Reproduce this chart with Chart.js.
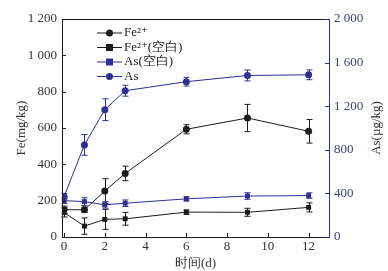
<!DOCTYPE html>
<html>
<head>
<meta charset="utf-8">
<script src="https://cdn.jsdelivr.net/npm/chart.js@4"></script>
<style>
  html, body { margin: 0; padding: 0; background: #fff; }
  #wrap { width: 388px; height: 271px; }
</style>
</head>
<body>
<div id="wrap"><canvas id="chart" width="388" height="271"></canvas></div>
<script>
// days sampled
let days = [0, 1, 2, 3, 6, 9, 12];

// Fe (mg/kg), left axis
let fe = [150, 150, 253, 350, 593, 655, 582];
let feErr = [20, 15, 68, 40, 25, 75, 65];
let feBlank = [135, 60, 97, 100, 137, 136, 163];
let feBlankErr = [25, 45, 55, 35, 12, 22, 25];

// As (ug/kg), right axis
let asBlank = [333, 325, 295, 310, 350, 376, 380];
let asBlankErr = [25, 35, 30, 30, 20, 30, 25];
let as = [370, 845, 1168, 1342, 1425, 1482, 1488];
let asErr = [30, 95, 100, 50, 40, 50, 45];

let xTicks = [0, 2, 4, 6, 8, 10, 12];
let feTicks = [0, 200, 400, 600, 800, 1000, 1200];
let asTicks = [0, 400, 800, 1200, 1600, 2000];

let black = '#1c1c1c';
let navy = '#2e3192';
let serif = '"Liberation Serif", "DejaVu Serif", serif';

let pts = (ys) => days.map((d, i) => ({ x: d, y: ys[i] }));
let fmt = (v) => String(v).replace(/\B(?=(\d{3})+(?!\d))/g, ' ');

let datasets = [
  { label: 'Fe²⁺', data: pts(fe), err: feErr, yAxisID: 'y', borderColor: black, backgroundColor: black, pointStyle: 'circle', pointRadius: 3.5 },
  { label: 'Fe²⁺(空白)', data: pts(feBlank), err: feBlankErr, yAxisID: 'y', borderColor: black, backgroundColor: black, pointStyle: 'rect', pointRadius: 3.5 },
  { label: 'As(空白)', data: pts(asBlank), err: asBlankErr, yAxisID: 'y1', borderColor: navy, backgroundColor: navy, pointStyle: 'rect', pointRadius: 3.5 },
  { label: 'As', data: pts(as), err: asErr, yAxisID: 'y1', borderColor: navy, backgroundColor: navy, pointStyle: 'circle', pointRadius: 3.5 }
];
datasets.forEach(d => { d.borderWidth = 1; d.pointBorderWidth = 0; d.tension = 0; });

// error bars with small caps
let errorBars = {
  id: 'errorBars',
  afterDatasetsDraw(chart) {
    let ctx = chart.ctx;
    chart.data.datasets.forEach((ds, di) => {
      let xs = chart.scales.x, ys = chart.scales[ds.yAxisID];
      ctx.save();
      ctx.strokeStyle = ds.borderColor;
      ctx.lineWidth = 1;
      ds.data.forEach((p, i) => {
        let px = Math.round(xs.getPixelForValue(p.x)) + 0.5;
        let top = ys.getPixelForValue(p.y + ds.err[i]);
        let bot = ys.getPixelForValue(Math.max(0, p.y - ds.err[i]));
        ctx.beginPath();
        ctx.moveTo(px, top); ctx.lineTo(px, bot);
        ctx.moveTo(px - 3, top); ctx.lineTo(px + 3, top);
        ctx.moveTo(px - 3, bot); ctx.lineTo(px + 3, bot);
        ctx.stroke();
      });
      ctx.restore();
    });
  }
};

// frame, inner ticks, right title, legend inside plot
let frame = {
  id: 'frame',
  afterDraw(chart) {
    let ctx = chart.ctx, a = chart.chartArea;
    let sx = chart.scales.x, sy = chart.scales.y, sy1 = chart.scales.y1;
    ctx.save();
    ctx.lineWidth = 1;
    ctx.strokeStyle = black;
    ctx.beginPath();
    ctx.moveTo(a.left + 0.5, a.bottom + 0.5); ctx.lineTo(a.left + 0.5, a.top + 0.5);
    ctx.lineTo(a.right, a.top + 0.5);
    ctx.moveTo(a.left, a.bottom + 0.5); ctx.lineTo(a.right, a.bottom + 0.5);
    xTicks.forEach(v => { let x = Math.round(sx.getPixelForValue(v)) + 0.5; ctx.moveTo(x, a.bottom); ctx.lineTo(x, a.bottom - 4); });
    feTicks.forEach(v => { let y = Math.round(sy.getPixelForValue(v)) + 0.5; ctx.moveTo(a.left, y); ctx.lineTo(a.left + 4, y); });
    ctx.stroke();
    ctx.strokeStyle = navy;
    ctx.beginPath();
    ctx.moveTo(a.right + 0.5, a.top); ctx.lineTo(a.right + 0.5, a.bottom + 1);
    asTicks.forEach(v => { let y = Math.round(sy1.getPixelForValue(v)) + 0.5; ctx.moveTo(a.right, y); ctx.lineTo(a.right - 4, y); });
    ctx.stroke();

    // right axis title, reading bottom to top
    ctx.fillStyle = '#333';
    ctx.font = '13px ' + serif;
    ctx.textAlign = 'center';
    ctx.textBaseline = 'middle';
    ctx.translate(377, (a.top + a.bottom) / 2);
    ctx.rotate(-Math.PI / 2);
    ctx.fillText('As(µg/kg)', 0, 0);
    ctx.restore();

    // legend
    ctx.save();
    ctx.font = '13px ' + serif;
    ctx.textBaseline = 'middle';
    chart.data.datasets.forEach((ds, i) => {
      let y = 33 + i * 14.5;
      ctx.strokeStyle = ds.borderColor;
      ctx.fillStyle = ds.borderColor;
      ctx.lineWidth = 1;
      ctx.beginPath(); ctx.moveTo(97, y); ctx.lineTo(122, y); ctx.stroke();
      if (ds.pointStyle === 'rect') ctx.fillRect(106, y - 3.5, 7, 7);
      else { ctx.beginPath(); ctx.arc(109.5, y, 3.5, 0, Math.PI * 2); ctx.fill(); }
      ctx.fillStyle = '#222';
      ctx.fillText(ds.label, 124, y);
    });
    ctx.restore();
  }
};

new Chart(document.getElementById('chart'), {
  type: 'line',
  data: { datasets: datasets },
  plugins: [errorBars, frame],
  options: {
    responsive: false,
    animation: false,
    layout: { padding: { top: 19, left: 0, right: 0, bottom: 0 } },
    plugins: { legend: { display: false }, tooltip: { enabled: false } },
    scales: {
      x: {
        type: 'linear', min: -0.1, max: 13,
        afterBuildTicks: (s) => { s.ticks = xTicks.map(v => ({ value: v })); },
        afterFit: (s) => { s.height = 34; },
        grid: { display: false, drawTicks: false },
        border: { display: false },
        ticks: { color: '#333', font: { family: serif, size: 13 }, padding: 2, callback: (v) => fmt(v) },
        title: { display: true, text: '时间(d)', color: '#333', font: { family: serif, size: 13 }, padding: 0 }
      },
      y: {
        type: 'linear', position: 'left', min: 0, max: 1200,
        afterBuildTicks: (s) => { s.ticks = feTicks.map(v => ({ value: v })); },
        afterFit: (s) => { s.width = 62; },
        grid: { display: false, drawTicks: false },
        border: { display: false },
        ticks: { color: '#333', font: { family: serif, size: 13 }, padding: 5, callback: (v) => fmt(v) },
        title: { display: true, text: 'Fe(mg/kg)', color: '#333', font: { family: serif, size: 13 }, padding: { top: 14, bottom: 0 } }
      },
      y1: {
        type: 'linear', position: 'right', min: 0, max: 2000,
        afterBuildTicks: (s) => { s.ticks = asTicks.map(v => ({ value: v })); },
        afterFit: (s) => { s.width = 59; },
        grid: { display: false, drawTicks: false },
        border: { display: false },
        ticks: { color: '#3b4378', font: { family: serif, size: 13 }, padding: 5, callback: (v) => fmt(v) }
      }
    }
  }
});
</script>
</body>
</html>
